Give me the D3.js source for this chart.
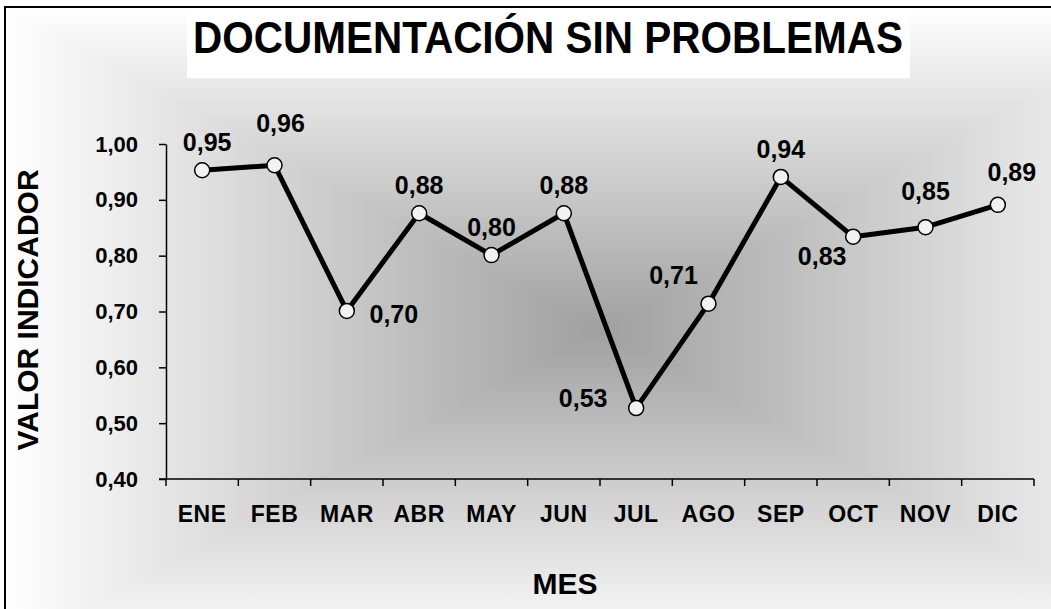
<!DOCTYPE html>
<html>
<head>
<meta charset="utf-8">
<script src="https://cdn.jsdelivr.net/npm/d3@7"></script>
<style>
  body { margin: 0; background: #fff; }
  svg { display: block; font-family: 'Liberation Sans', Arial, sans-serif; font-weight: bold; }
</style>
</head>
<body>
<svg width="1051" height="609"></svg>
<script>
(function (d3) {
  'use strict';

  const months = ['ENE', 'FEB', 'MAR', 'ABR', 'MAY', 'JUN', 'JUL', 'AGO', 'SEP', 'OCT', 'NOV', 'DIC'];
  const values = [0.953, 0.962, 0.701, 0.876, 0.801, 0.876, 0.527, 0.714, 0.941, 0.834, 0.851, 0.891];
  const yTicks = [0.4, 0.5, 0.6, 0.7, 0.8, 0.9, 1.0];

  // manual label nudges, like the hand-placed labels in the original
  const labelNudge = [[5, -19], [6, -33], [47, 12], [0, -19], [0, -19], [0, -19],
                      [-53, -1], [-35, -20], [0, -19], [-31, 28], [0, -27], [14, -24]];

  const svg = d3.select('svg');
  const width = +svg.attr('width');
  const height = +svg.attr('height');

  const comma = d3.formatLocale({ decimal: ',', thousands: '.', grouping: [3], currency: ['', ''] }).format('.2f');

  const margin = { top: 144, right: 17, bottom: 130, left: 166 };
  const innerWidth = width - margin.left - margin.right;
  const innerHeight = height - margin.top - margin.bottom;

  // chart area with a rectangular "from center" gradient
  const area = { x: 5, y: 7, w: 1190, h: 646 };
  const cx = area.x + area.w / 2;
  const cy = area.y + area.h / 2;
  const defs = svg.append('defs');
  const corners = [[area.x, area.y], [area.x + area.w, area.y], [area.x + area.w, area.y + area.h], [area.x, area.y + area.h]];
  const edgeEnds = [[cx, area.y], [area.x + area.w, cy], [cx, area.y + area.h], [area.x, cy]];
  const bg = svg.append('g');
  edgeEnds.forEach((end, i) => {
    const grad = defs.append('linearGradient')
      .attr('id', 'g' + i)
      .attr('gradientUnits', 'userSpaceOnUse')
      .attr('x1', cx).attr('y1', cy)
      .attr('x2', end[0]).attr('y2', end[1]);
    grad.append('stop').attr('offset', 0).attr('stop-color', '#a0a0a0');
    grad.append('stop').attr('offset', 0.45).attr('stop-color', '#cbcbcb');
    grad.append('stop').attr('offset', 1).attr('stop-color', '#ffffff');
    const a = corners[i];
    const b = corners[(i + 1) % 4];
    bg.append('path')
      .attr('d', `M${cx},${cy}L${a[0]},${a[1]}L${b[0]},${b[1]}Z`)
      .attr('fill', `url(#g${i})`)
      .attr('stroke', `url(#g${i})`)
      .attr('stroke-width', 1);
  });
  svg.append('rect')
    .attr('x', area.x).attr('y', area.y)
    .attr('width', area.w).attr('height', area.h)
    .attr('fill', 'none')
    .attr('stroke', '#000')
    .attr('stroke-width', 2);

  // title
  svg.append('rect')
    .attr('x', 187).attr('y', 9)
    .attr('width', 723).attr('height', 69)
    .attr('fill', '#fff');
  svg.append('text')
    .attr('x', 548).attr('y', 53)
    .attr('text-anchor', 'middle')
    .attr('font-size', 44)
    .attr('textLength', 710)
    .attr('lengthAdjust', 'spacingAndGlyphs')
    .text('DOCUMENTACIÓN SIN PROBLEMAS');

  const xScale = d3.scaleBand()
    .domain(months)
    .range([0, innerWidth]);

  const yScale = d3.scaleLinear()
    .domain([0.4, 1.0])
    .range([innerHeight, 0]);

  const g = svg.append('g')
    .attr('transform', `translate(${margin.left},${margin.top})`);

  const yAxis = d3.axisLeft(yScale)
    .tickValues(yTicks)
    .tickFormat(comma)
    .tickSize(7)
    .tickSizeOuter(0)
    .tickPadding(21);

  const xAxis = d3.axisBottom(xScale)
    .tickSize(0)
    .tickPadding(27);

  const yAxisG = g.append('g').call(yAxis);
  yAxisG.selectAll('text').attr('font-size', 22).attr('fill', '#000');
  yAxisG.selectAll('line, path').attr('stroke', '#000').attr('stroke-width', 1.5);

  const xAxisG = g.append('g').call(xAxis)
    .attr('transform', `translate(0,${innerHeight})`);
  xAxisG.selectAll('text').attr('font-size', 23).attr('letter-spacing', 0.5).attr('fill', '#000');
  xAxisG.select('.domain').remove();

  // x axis line and ticks on the category boundaries
  xAxisG.append('line')
    .attr('x1', -7).attr('x2', innerWidth)
    .attr('stroke', '#000').attr('stroke-width', 1.5);
  xAxisG.selectAll('.bound')
    .data(months.concat(['end']))
    .enter().append('line')
      .attr('class', 'bound')
      .attr('x1', (d, i) => i * xScale.step())
      .attr('x2', (d, i) => i * xScale.step())
      .attr('y1', 0).attr('y2', 7)
      .attr('stroke', '#000').attr('stroke-width', 1.5);

  const xValue = (d, i) => xScale(months[i]) + xScale.bandwidth() / 2;

  const line = d3.line()
    .x((d, i) => xValue(d, i))
    .y(d => yScale(d));

  g.append('path')
    .datum(values)
    .attr('d', line)
    .attr('fill', 'none')
    .attr('stroke', '#000')
    .attr('stroke-width', 5)
    .attr('stroke-linejoin', 'round');

  g.selectAll('circle').data(values)
    .enter().append('circle')
      .attr('cx', (d, i) => xValue(d, i))
      .attr('cy', d => yScale(d))
      .attr('r', 7.5)
      .attr('fill', '#f2f2f2')
      .attr('stroke', '#000')
      .attr('stroke-width', 1.5);

  g.selectAll('.valueLabel').data(values)
    .enter().append('text')
      .attr('class', 'valueLabel')
      .attr('x', (d, i) => xValue(d, i) + labelNudge[i][0])
      .attr('y', (d, i) => yScale(d) + labelNudge[i][1])
      .attr('text-anchor', 'middle')
      .attr('font-size', 25)
      .text(d => comma(d));

  // axis titles
  svg.append('text')
    .attr('transform', 'translate(38,310) rotate(-90)')
    .attr('text-anchor', 'middle')
    .attr('font-size', 30)
    .text('VALOR INDICADOR');

  svg.append('text')
    .attr('x', 565).attr('y', 594)
    .attr('text-anchor', 'middle')
    .attr('font-size', 30)
    .text('MES');

}(d3));
</script>
</body>
</html>
